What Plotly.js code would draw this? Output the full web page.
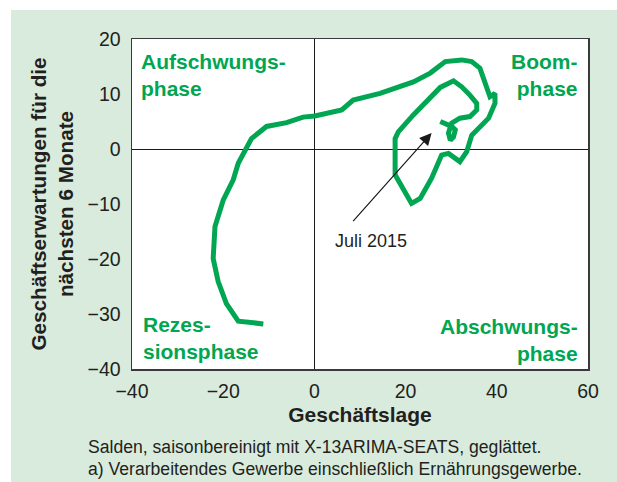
<!DOCTYPE html>
<html>
<head>
<meta charset="utf-8">
<script src="https://cdn.plot.ly/plotly-3.0.1.min.js"></script>
<style>html,body{margin:0;padding:0;background:#fff;}#chart{width:617px;height:482px;}</style>
</head>
<body>
<div id="chart"></div>
<script>
// Geschäftslage (x) and Geschäftserwartungen (y), chronological order ending July 2015
var geschaeftslage = [-11.2, -16.7, -19.3, -21.1, -22.2, -21.8, -20.0, -17.8, -16.7, -13.8, -10.5, -6.1, -2.5, 0.1, 6.0, 8.5, 14.4, 21.7, 25.4, 28.7, 32.3, 34.5, 36.3, 37.8, 38.5, 39.6, 39.6, 38.2, 36.3, 34.5, 33.4, 31.9, 29.4, 27.9, 25.7, 23.2, 21.3, 17.7, 17.7, 18.4, 21.7, 26.5, 27.6, 30.5, 32.3, 34.1, 35.6, 35.6, 34.1, 31.9, 30.1, 29.4, 29.8, 30.5, 30.9, 30.1, 29.0, 27.6];
var erwartungen = [-31.8, -31.3, -28.1, -24.1, -19.9, -14.1, -9.3, -5.6, -2.6, 1.9, 4.1, 4.8, 5.8, 6.0, 7.1, 8.9, 10.1, 12.2, 13.8, 15.9, 16.2, 15.9, 14.7, 11.0, 9.5, 10.1, 8.3, 5.6, 4.1, 2.5, -0.5, -2.3, -0.8, -1.1, -5.3, -9.0, -9.9, -4.7, 1.9, 3.1, 6.2, 10.1, 11.2, 12.4, 11.3, 9.8, 8.3, 7.1, 5.9, 5.6, 4.7, 2.9, 1.6, 2.2, 3.5, 4.1, 4.4, 5.0];

var xTicks = [-40, -20, 0, 20, 40, 60];
var yTicks = [-40, -30, -20, -10, 0, 10, 20];
var xTitle = 'Geschäftslage';
var yTitle = 'Geschäftserwartungen für die<br>nächsten 6 Monate';
var phaseLabels = ['Aufschwungs-<br>phase', 'Boom-<br>phase', 'Rezes-<br>sionsphase', 'Abschwungs-<br>phase'];
var arrowLabel = 'Juli 2015';
var notes = ['Salden, saisonbereinigt mit X-13ARIMA-SEATS, geglättet.', 'a) Verarbeitendes Gewerbe einschließlich Ernährungsgewerbe.'];

var GREEN = '#00a651';
var BG = '#d8ebdd';
var TXT = '#231f20';
var FONT = '"Liberation Sans", Arial, Helvetica, sans-serif';

var trace = {
  x: geschaeftslage,
  y: erwartungen,
  type: 'scatter',
  mode: 'lines',
  line: {color: GREEN, width: 5},
  hoverinfo: 'skip'
};

function tickText(v) { return v < 0 ? '\u2212' + Math.abs(v) : String(v); }

var layout = {
  width: 617, height: 482,
  margin: {l: 132, r: 29, t: 39, b: 113},
  paper_bgcolor: '#ffffff',
  plot_bgcolor: '#ffffff',
  showlegend: false,
  font: {family: FONT, color: TXT, size: 19},
  xaxis: {
    range: [-40, 60], tickvals: xTicks, ticktext: xTicks.map(tickText),
    showgrid: false, zeroline: true, zerolinecolor: '#1a1a1a', zerolinewidth: 1,
    showline: true, mirror: true, linecolor: '#3a3a3a', linewidth: 1.5,
    ticks: '', tickfont: {size: 19.5, color: TXT, family: FONT}, ticklabelstandoff: 4,
    title: {text: xTitle, font: {size: 21, color: TXT, family: FONT, weight: 'bold'}, standoff: 6},
    fixedrange: true
  },
  yaxis: {
    range: [-40, 20], tickvals: yTicks, ticktext: yTicks.map(tickText),
    showgrid: false, zeroline: true, zerolinecolor: '#1a1a1a', zerolinewidth: 1,
    showline: true, mirror: true, linecolor: '#3a3a3a', linewidth: 1.5,
    ticks: '', tickfont: {size: 19.5, color: TXT, family: FONT}, ticklabelstandoff: 6,
    title: {text: yTitle, font: {size: 20.7, color: TXT, family: FONT, weight: 'bold'}, standoff: 8},
    fixedrange: true
  },
  shapes: [
    {type: 'rect', xref: 'paper', yref: 'paper', x0: -0.2654, x1: 1.07, y0: -0.36, y1: 1.0879,
     fillcolor: BG, line: {width: 0}, layer: 'below'},
    {type: 'rect', xref: 'paper', yref: 'paper', x0: 0, x1: 1, y0: 0, y1: 1,
     fillcolor: '#ffffff', line: {width: 0}, layer: 'below'}
  ],
  annotations: [
    {x: -38.5, y: 18.4, xref: 'x', yref: 'y', text: phaseLabels[0], showarrow: false,
     xanchor: 'left', yanchor: 'top', align: 'left',
     font: {size: 21, color: GREEN, family: FONT, weight: 'bold'}},
    {x: 58.3, y: 18.4, xref: 'x', yref: 'y', text: phaseLabels[1], showarrow: false,
     xanchor: 'right', yanchor: 'top', align: 'right',
     font: {size: 21, color: GREEN, family: FONT, weight: 'bold'}},
    {x: -38.0, y: -29.4, xref: 'x', yref: 'y', text: phaseLabels[2], showarrow: false,
     xanchor: 'left', yanchor: 'top', align: 'left',
     font: {size: 21, color: GREEN, family: FONT, weight: 'bold'}},
    {x: 58.3, y: -29.8, xref: 'x', yref: 'y', text: phaseLabels[3], showarrow: false,
     xanchor: 'right', yanchor: 'top', align: 'right',
     font: {size: 21, color: GREEN, family: FONT, weight: 'bold'}},
    {x: 25.7, y: 2.9, xref: 'x', yref: 'y', ax: 8.2, ay: -13.4, axref: 'x', ayref: 'y',
     text: '', showarrow: true, arrowhead: 2, arrowsize: 2, arrowwidth: 1.2, arrowcolor: '#1a1a1a'},
    {x: 12.4, y: -16.8, xref: 'x', yref: 'y', text: arrowLabel, showarrow: false,
     xanchor: 'center', yanchor: 'middle', font: {size: 18, color: TXT, family: FONT}},
    {x: -0.1009, y: -0.236, xref: 'paper', yref: 'paper', text: notes[0], showarrow: false,
     xanchor: 'left', yanchor: 'middle', align: 'left', font: {size: 17.6, color: TXT, family: FONT}},
    {x: -0.1009, y: -0.302, xref: 'paper', yref: 'paper', text: notes[1], showarrow: false,
     xanchor: 'left', yanchor: 'middle', align: 'left', font: {size: 17.6, color: TXT, family: FONT}}
  ]
};

Plotly.newPlot('chart', [trace], layout, {displayModeBar: false, staticPlot: true});
</script>
</body>
</html>
